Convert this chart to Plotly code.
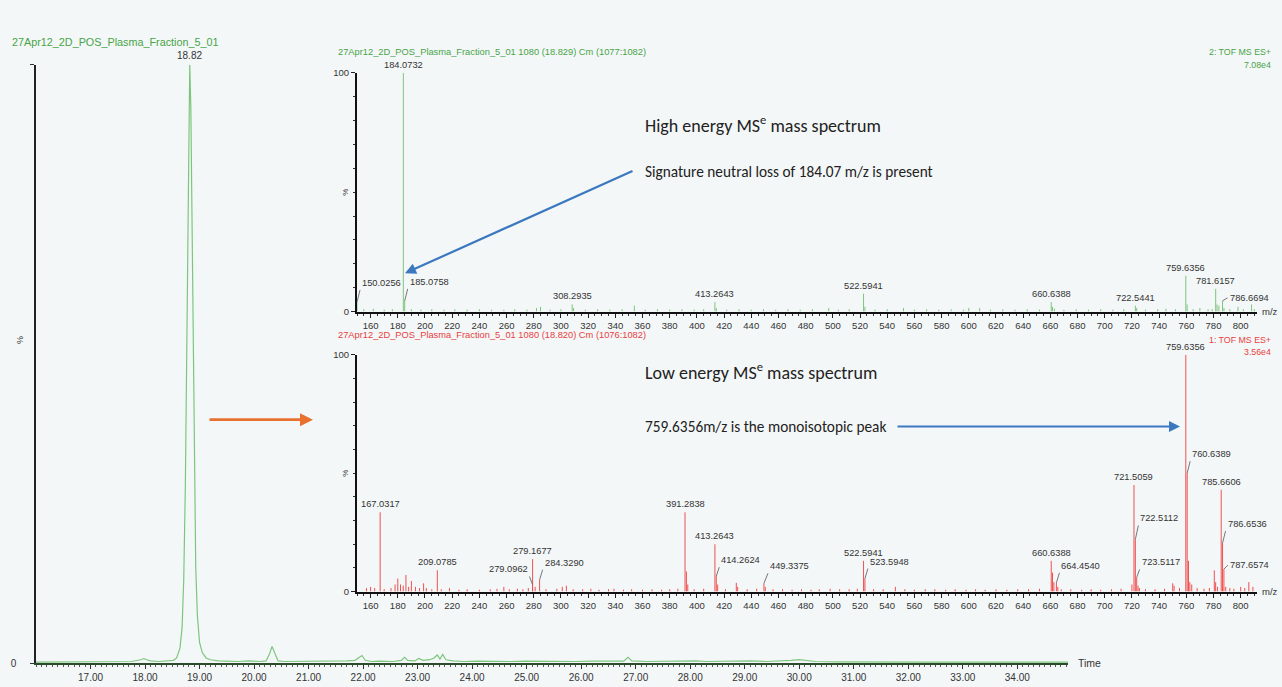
import plotly.graph_objects as go

W, H = 1282, 687

# ---- Total ion chromatogram: retention time (min) vs relative intensity (%) ----
rt_min = [16.00, 16.25, 16.50, 16.75, 17.00, 17.25, 17.50, 17.75, 17.92, 17.98,
          18.03, 18.10, 18.25, 18.40, 18.52, 18.58, 18.64, 18.68, 18.71, 18.74,
          18.76, 18.78, 18.80, 18.82, 18.84, 18.86, 18.88, 18.90, 18.93, 18.96,
          19.00, 19.05, 19.12, 19.20, 19.35, 19.50, 19.70, 19.90, 20.10, 20.22,
          20.28, 20.33, 20.38, 20.44, 20.55, 20.75, 21.00, 21.25, 21.50, 21.70,
          21.85, 21.98, 22.04, 22.15, 22.30, 22.55, 22.70, 22.76, 22.82, 22.95,
          23.02, 23.10, 23.22, 23.30, 23.36, 23.41, 23.46, 23.52, 23.65, 23.85,
          24.10, 24.40, 24.70, 25.00, 25.30, 25.60, 25.90, 26.20, 26.50, 26.78,
          26.86, 26.93, 27.20, 27.50, 27.80, 28.10, 28.30, 28.50, 28.80, 29.00,
          29.10, 29.40, 29.70, 29.85, 30.00, 30.30, 30.70, 31.20, 31.80, 32.40,
          33.00, 33.60, 34.20, 34.93]
tic_pct = [0.2, 0.2, 0.25, 0.2, 0.3, 0.2, 0.3, 0.3, 0.6, 0.8,
           0.6, 0.4, 0.3, 0.35, 0.5, 0.9, 2.5, 6.0, 14.0, 30.0,
           48.0, 70.0, 90.0, 100.0, 93.0, 75.0, 52.0, 32.0, 16.0, 8.0,
           3.5, 1.8, 0.9, 0.6, 0.4, 0.35, 0.3, 0.4, 0.3, 0.4,
           1.5, 2.8, 1.6, 0.4, 0.3, 0.3, 0.35, 0.3, 0.3, 0.4,
           0.5, 1.3, 0.5, 0.3, 0.35, 0.3, 0.5, 1.0, 0.5, 0.4,
           0.8, 0.5, 0.6, 0.9, 1.4, 0.7, 1.5, 0.6, 0.4, 0.3,
           0.35, 0.3, 0.3, 0.35, 0.3, 0.3, 0.3, 0.35, 0.3, 0.35,
           1.0, 0.4, 0.3, 0.35, 0.3, 0.4, 0.3, 0.35, 0.4, 0.5,
           0.4, 0.3, 0.35, 0.5, 0.6, 0.3, 0.25, 0.2, 0.2, 0.2,
           0.2, 0.2, 0.2, 0.2]
tic_apex_rt = 18.82
time_ticks = list(range(17, 35))

# ---- High energy MSe spectrum (scan 1080, 18.829 min) ----
hi_peak_mz = [150.0256, 184.0732, 185.0758, 308.2935, 413.2643, 522.5941,
              660.6388, 722.5441, 759.6356, 781.6157, 786.6694]
hi_peak_pct = [4.0, 100.0, 4.5, 3.0, 4.0, 7.5, 4.0, 2.5, 15.0, 9.5, 4.5]
hi_minor_mz = [155, 162, 170, 176, 190, 197, 205, 214, 222, 231, 240, 249, 258,
               266, 275, 282, 285, 292, 300, 309.3, 318, 327, 336, 345, 354, 362,
               371, 380, 389, 398, 405, 414.3, 422, 431, 440, 449, 458, 467, 476,
               485, 497, 504, 512, 523.6, 531, 540, 552, 560, 569, 578, 587, 596,
               600, 608, 616, 625, 634, 643, 652, 661.6, 663, 670, 679, 688, 697,
               706, 714, 723.5, 730, 739, 745, 752, 760.6, 765, 770, 776, 779,
               782.6, 784, 787.7, 792, 798, 802, 808, 810]
hi_minor_pct = [1.0, 1.2, 0.8, 1.0, 1.0, 0.8, 1.0, 0.8, 1.0, 0.8, 1.0, 0.8, 0.8,
                1.0, 0.8, 1.5, 2.0, 0.8, 1.0, 1.5, 0.8, 1.0, 0.8, 1.0, 2.5, 0.8,
                1.0, 0.8, 1.0, 0.8, 1.0, 1.5, 0.8, 1.0, 0.8, 1.0, 0.8, 1.0, 0.8,
                1.0, 1.5, 0.8, 1.0, 2.0, 0.8, 1.0, 1.5, 0.8, 1.0, 0.8, 1.0, 0.8,
                1.5, 1.5, 0.8, 1.0, 0.8, 1.0, 0.8, 2.0, 1.2, 0.8, 1.0, 0.8, 1.0,
                0.8, 1.0, 1.5, 0.8, 1.0, 1.2, 1.0, 3.0, 1.0, 1.5, 1.0, 1.0,
                3.0, 2.5, 1.5, 1.0, 2.0, 1.0, 3.0, 1.0]

# ---- Low energy MSe spectrum (scan 1080, 18.820 min) ----
lo_peak_mz = [167.0317, 209.0785, 279.0962, 279.1677, 284.3290, 391.2838,
              413.2643, 414.2624, 449.3375, 522.5941, 523.5948, 660.6388,
              664.4540, 721.5059, 722.5112, 723.5117, 759.6356, 760.6389,
              785.6606, 786.6536, 787.6574]
lo_peak_pct = [33.5, 9.0, 3.0, 13.7, 5.0, 33.5, 20.0, 6.5, 3.5, 13.0, 5.5, 13.0,
               3.7, 45.0, 22.0, 6.0, 100.0, 50.0, 43.0, 20.5, 9.5]
lo_minor_mz = [157, 160, 163, 170, 175, 178, 180, 182, 184, 186, 188, 190, 193,
               196, 199, 201, 205, 212, 218, 225, 231, 240, 248, 253, 258, 262,
               268, 272, 276, 281, 289, 297, 301, 304, 309, 316, 322, 328, 335,
               339, 346, 352, 360, 367, 374, 380, 386, 392.3, 393.3, 398, 405,
               415.3, 421, 429, 430, 437, 444, 450.3, 456, 463, 470, 477, 484,
               490, 498, 505, 512, 518, 530, 537, 546, 553, 560, 568, 575, 583,
               590, 598, 605, 612, 620, 628, 636, 644, 652, 661.6, 662.6, 665.5,
               668, 675, 683, 690, 697, 705, 712, 720, 724.5, 725.5, 730, 737,
               744, 750, 751, 755, 761.6, 762.6, 764, 768, 773, 777, 780.6,
               781.6, 783, 789, 792, 795, 800, 803, 806, 809]
lo_minor_pct = [1.5, 2.0, 1.5, 1.0, 1.5, 3.0, 5.5, 3.0, 2.5, 7.0, 2.0, 4.5, 2.0,
                1.5, 3.5, 1.5, 1.0, 1.0, 1.5, 0.8, 1.0, 0.8, 1.0, 1.2, 2.0, 1.0,
                1.2, 1.0, 1.5, 2.0, 1.0, 1.2, 2.0, 2.5, 1.0, 1.0, 1.2, 0.8, 1.0,
                1.2, 0.8, 1.0, 0.8, 1.0, 0.8, 1.0, 1.2, 8.5, 3.0, 1.0, 1.2,
                3.0, 1.0, 3.7, 2.0, 1.0, 1.2, 2.0, 1.0, 1.0, 0.8, 1.0, 0.8,
                1.0, 1.2, 1.0, 1.0, 1.2, 1.0, 1.0, 2.0, 1.0, 0.8, 1.0, 1.0, 0.8,
                1.0, 0.8, 1.0, 0.8, 1.0, 0.8, 1.0, 1.0, 1.2, 8.0, 4.0, 2.0,
                1.0, 1.0, 0.8, 1.0, 0.8, 1.0, 1.2, 3.0, 2.5, 1.5, 1.0, 1.0,
                1.2, 3.5, 2.5, 1.5, 13.0, 4.0, 3.0, 1.5, 1.2, 1.5, 9.0,
                4.0, 2.0, 2.0, 1.5, 1.2, 2.0, 1.5, 4.0, 2.0]
mz_ticks = list(range(160, 801, 20))

# leader offsets (dx, dy in pixels, vertical anchor) for labels set beside their peak
HI_LEADERS = {150.0256: (3, -12, "bottom"), 185.0758: (3, -12, "bottom"),
              786.6694: (5, -3, "middle")}
LO_LEADERS = {279.0962: (-3, -8, "bottom"), 284.3290: (3, -10, "bottom"),
              414.2624: (3, -9, "bottom"), 449.3375: (4, -10, "bottom"),
              523.5948: (3, -10, "bottom"), 664.4540: (3, -10, "bottom"),
              722.5112: (3, -14, "bottom"), 723.5117: (3, -8, "bottom"),
              760.6389: (3, -12, "bottom"), 786.6536: (3, -12, "bottom"),
              787.6574: (4, -4, "middle")}

# ---- styling ----
BG = "#f4f7f8"
GREEN_TXT = "#47a447"
GREEN_LINE = "#7cc67c"
RED_TXT = "#e8403f"
RED_LINE = "#ef5050"
DARK = "#333333"
SMALL = "Liberation Sans Narrow, Arial Narrow, Liberation Sans, Arial, sans-serif"
PLAIN = "Liberation Sans, Arial, sans-serif"
NOTE = "Carlito, Calibri, Lato, sans-serif"
ARROW_BLUE = "#3b78c0"
ARROW_ORANGE = "#e8712f"


def xf(px):
    return px / W


def yf(py):
    return 1 - py / H


def sticks(mz_list, pct_list):
    xs, ys = [], []
    for m, p in zip(mz_list, pct_list):
        xs += [m, m, None]
        ys += [0, p, None]
    return xs, ys


fig = go.Figure()

fig.add_trace(go.Scatter(x=rt_min, y=tic_pct, mode="lines", xaxis="x", yaxis="y",
                         line=dict(color=GREEN_LINE, width=1.2), hoverinfo="skip"))

hx, hy = sticks(hi_minor_mz + hi_peak_mz, hi_minor_pct + hi_peak_pct)
fig.add_trace(go.Scatter(x=hx, y=hy, mode="lines", xaxis="x2", yaxis="y2",
                         line=dict(color=GREEN_LINE, width=1), hoverinfo="skip"))

lx, ly = sticks(lo_minor_mz + lo_peak_mz, lo_minor_pct + lo_peak_pct)
fig.add_trace(go.Scatter(x=lx, y=ly, mode="lines", xaxis="x3", yaxis="y3",
                         line=dict(color=RED_LINE, width=1), hoverinfo="skip"))

tickfont_main = dict(family=PLAIN, size=10, color=DARK)
tickfont_ms = dict(family=SMALL, size=9.5, color=DARK)

spec_x = dict(range=[150, 812], showline=True, linecolor="#111111", linewidth=2,
              ticks="outside", ticklen=4, tickcolor="#222222", tickwidth=1,
              tickvals=mz_ticks, tickfont=tickfont_ms, showgrid=False, zeroline=False,
              minor=dict(ticks="outside", tick0=150, dtick=5, ticklen=2,
                         tickcolor="#333333", showgrid=False))
spec_y = dict(range=[0, 100], showline=True, linecolor="#111111", linewidth=2,
              ticks="outside", ticklen=4, tickcolor="#222222",
              tickvals=[0, 100], ticktext=["0", "100"], tickfont=tickfont_ms,
              showgrid=False, zeroline=False,
              minor=dict(ticks="outside", tick0=0, dtick=10, ticklen=2,
                         tickcolor="#333333", showgrid=False))

fig.update_layout(
    width=W, height=H, autosize=False,
    margin=dict(l=0, r=0, t=0, b=0),
    paper_bgcolor=BG, plot_bgcolor="rgba(0,0,0,0)",
    showlegend=False,
    xaxis=dict(domain=[xf(36), xf(1068)], anchor="y", range=[16.0, 34.93],
               showline=True, linecolor="#2c4a2c", linewidth=2,
               ticks="outside", ticklen=4, tickcolor="#333333",
               tickvals=time_ticks, ticktext=[f"{t:.2f}" for t in time_ticks],
               tickfont=tickfont_main, showgrid=False, zeroline=False,
               minor=dict(ticks="outside", tick0=16, dtick=0.1, ticklen=2,
                          tickcolor="#555555", showgrid=False)),
    yaxis=dict(domain=[yf(669), yf(60)], anchor="x", range=[0, 100],
               showline=True, linecolor="#222222", linewidth=1.5,
               ticks="outside", ticklen=4, tickcolor="#333333",
               tickvals=[0, 100], ticktext=["0", ""], tickfont=tickfont_main,
               ticklabelstandoff=12,
               showgrid=False, zeroline=False),
    xaxis2=dict(domain=[xf(357), xf(1257)], anchor="y2", **spec_x),
    yaxis2=dict(domain=[yf(311), yf(68)], anchor="x2", **spec_y),
    xaxis3=dict(domain=[xf(357), xf(1257)], anchor="y3", **spec_x),
    yaxis3=dict(domain=[yf(596), yf(355)], anchor="x3", **spec_y),
)

ann = []


def paper_text(x, y, text, color, size, family=PLAIN, xanchor="left", angle=0):
    ann.append(dict(x=xf(x), y=yf(y), xref="paper", yref="paper", text=text,
                    showarrow=False, xanchor=xanchor, yanchor="middle",
                    textangle=angle, font=dict(family=family, size=size, color=color)))


# chromatogram labels
paper_text(10, 37, "27Apr12_2D_POS_Plasma_Fraction_5_01", GREEN_TXT, 10.8)
ann.append(dict(x=tic_apex_rt, y=max(tic_pct), xref="x", yref="y",
                text=f"{tic_apex_rt:.2f}", showarrow=False, yanchor="bottom", yshift=2,
                font=dict(family=PLAIN, size=10, color=DARK)))
paper_text(1076, 669, "Time", DARK, 10.5)
paper_text(20, 340, "%", DARK, 9, angle=-90, xanchor="center")

# spectrum headers
paper_text(336, 47, "27Apr12_2D_POS_Plasma_Fraction_5_01 1080 (18.829) Cm (1077:1082)",
           GREEN_TXT, 9.3, family=SMALL)
paper_text(1273, 47, "2: TOF MS ES+", GREEN_TXT, 8.8, family=SMALL, xanchor="right")
paper_text(1273, 60, "7.08e4", GREEN_TXT, 8.8, family=SMALL, xanchor="right")
paper_text(336, 335, "27Apr12_2D_POS_Plasma_Fraction_5_01 1080 (18.820) Cm (1076:1082)",
           RED_TXT, 9.3, family=SMALL)
paper_text(1273, 340, "1: TOF MS ES+", RED_TXT, 8.8, family=SMALL, xanchor="right")
paper_text(1273, 352, "3.56e4", RED_TXT, 8.8, family=SMALL, xanchor="right")
paper_text(1260, 311, "m/z", DARK, 9.5, family=SMALL)
paper_text(1260, 596, "m/z", DARK, 9.5, family=SMALL)
paper_text(346, 190, "%", DARK, 8, angle=-90, xanchor="center")
paper_text(346, 476, "%", DARK, 8, angle=-90, xanchor="center")


def peak_labels(mz_list, pct_list, leaders, xref, yref):
    for m, p in zip(mz_list, pct_list):
        font = dict(family=SMALL, size=9.3, color=DARK)
        if m in leaders:
            dx, dy, yanc = leaders[m]
            ann.append(dict(x=m, y=p, xref=xref, yref=yref, text=f"{m:.4f}",
                            showarrow=True, arrowhead=0, arrowwidth=0.8,
                            arrowcolor="#555555", ax=dx, ay=dy, standoff=0,
                            xanchor="left" if dx > 0 else "right", yanchor=yanc,
                            font=font))
        else:
            ann.append(dict(x=m, y=p, xref=xref, yref=yref, text=f"{m:.4f}",
                            showarrow=False, yanchor="bottom", yshift=1, font=font))


peak_labels(hi_peak_mz, hi_peak_pct, HI_LEADERS, "x2", "y2")
peak_labels(lo_peak_mz, lo_peak_pct, LO_LEADERS, "x3", "y3")

# explanatory notes
paper_text(643, 121, "High energy MS<sup>e</sup> mass spectrum", "#222222", 18, family=NOTE)
paper_text(643, 168, "Signature neutral loss of 184.07 m/z is present", "#222222", 15.3,
           family=NOTE)
paper_text(643, 372, "Low energy MS<sup>e</sup> mass spectrum", "#222222", 18, family=NOTE)
paper_text(643, 428, "759.6356m/z is the monoisotopic peak", "#222222", 15.3, family=NOTE)


def arrow(x0, y0, x1, y1, color, width):
    ann.append(dict(x=xf(x1), y=yf(y1), xref="paper", yref="paper", text="",
                    showarrow=True, axref="pixel", ayref="pixel",
                    ax=x0 - x1, ay=y0 - y1, arrowhead=2, arrowsize=1,
                    arrowwidth=width, arrowcolor=color, standoff=0))


arrow(634, 169, 405, 272, ARROW_BLUE, 2.2)
arrow(896, 428, 1180, 428, ARROW_BLUE, 2.2)
arrow(208, 421, 313, 421, ARROW_ORANGE, 2.6)

fig.update_layout(annotations=ann)
fig.write_html("out.html")
